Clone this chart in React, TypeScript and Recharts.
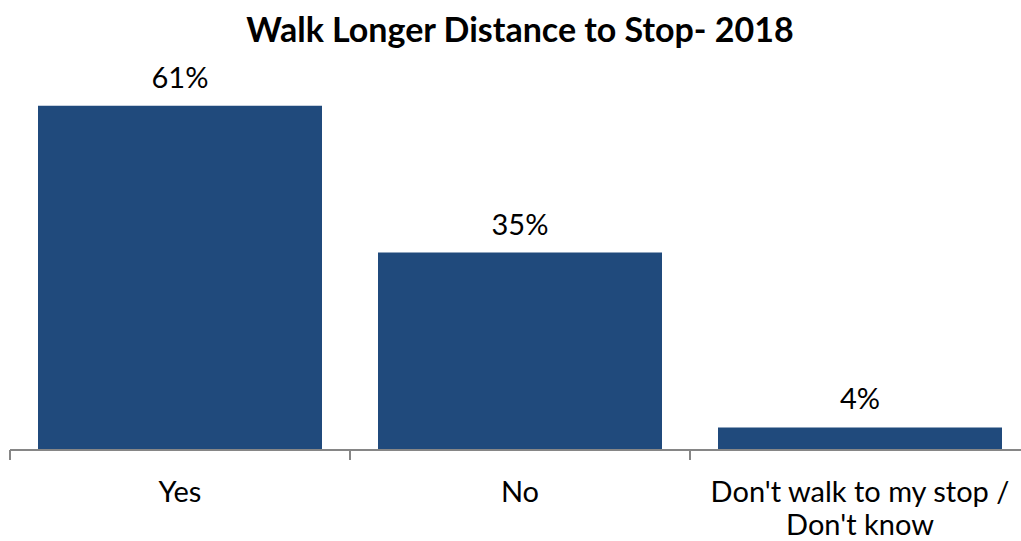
import React from 'react';
import { BarChart, Bar, XAxis, YAxis, LabelList } from 'recharts';

const categories = ['Yes', 'No', "Don't walk to my stop / Don't know"];
const shares = [61, 35, 4];
const labelLines: string[][] = [['Yes'], ['No'], ["Don't walk to my stop /", "Don't know"]];

const data = categories.map((name, i) => ({ name, value: shares[i] }));

const FONT = 'Lato, "Open Sans", sans-serif';
const BAND = 340;

const CategoryTick = (props: any) => {
  const { x, y, payload, index } = props;
  const lines = labelLines[index] || [payload.value];
  const left = x - BAND / 2;
  return (
    <g>
      <line x1={left} y1={y - 8} x2={left} y2={y + 2} stroke="#868686" strokeWidth={2} />
      {index === categories.length - 1 && (
        <line x1={x + BAND / 2} y1={y - 8} x2={x + BAND / 2} y2={y + 2} stroke="#868686" strokeWidth={2} />
      )}
      {lines.map((line: string, i: number) => (
        <text key={i} x={x} y={y + 44 + i * 33} textAnchor="middle" fill="#000" fontSize={29} fontFamily={FONT}>
          {line}
        </text>
      ))}
    </g>
  );
};

const App: React.FC = () => {
  return (
    <div style={{ position: 'absolute', left: 0, top: 0, width: 1021, height: 541, overflow: 'hidden', background: '#fff' }}>
      <div style={{ position: 'absolute', left: 0, top: 8, width: 1040, textAlign: 'center', fontFamily: FONT, fontWeight: 'bold', fontSize: 34, color: '#000' }}>
        Walk Longer Distance to Stop- 2018
      </div>
      <BarChart width={1040} height={541} data={data} margin={{ top: 55, right: 10, bottom: 0, left: 10 }} barCategoryGap={28}>
        <XAxis
          dataKey="name"
          axisLine={{ stroke: '#868686', strokeWidth: 2 }}
          tickLine={false}
          tick={<CategoryTick />}
          height={91}
          interval={0}
        />
        <YAxis hide domain={[0, 70]} />
        <Bar dataKey="value" fill="#204A7C" isAnimationActive={false}>
          <LabelList dataKey="value" position="top" offset={18} formatter={(v: any) => `${v}%`} fill="#000" fontSize={29} fontFamily={FONT} />
        </Bar>
      </BarChart>
    </div>
  );
};

export default App;
